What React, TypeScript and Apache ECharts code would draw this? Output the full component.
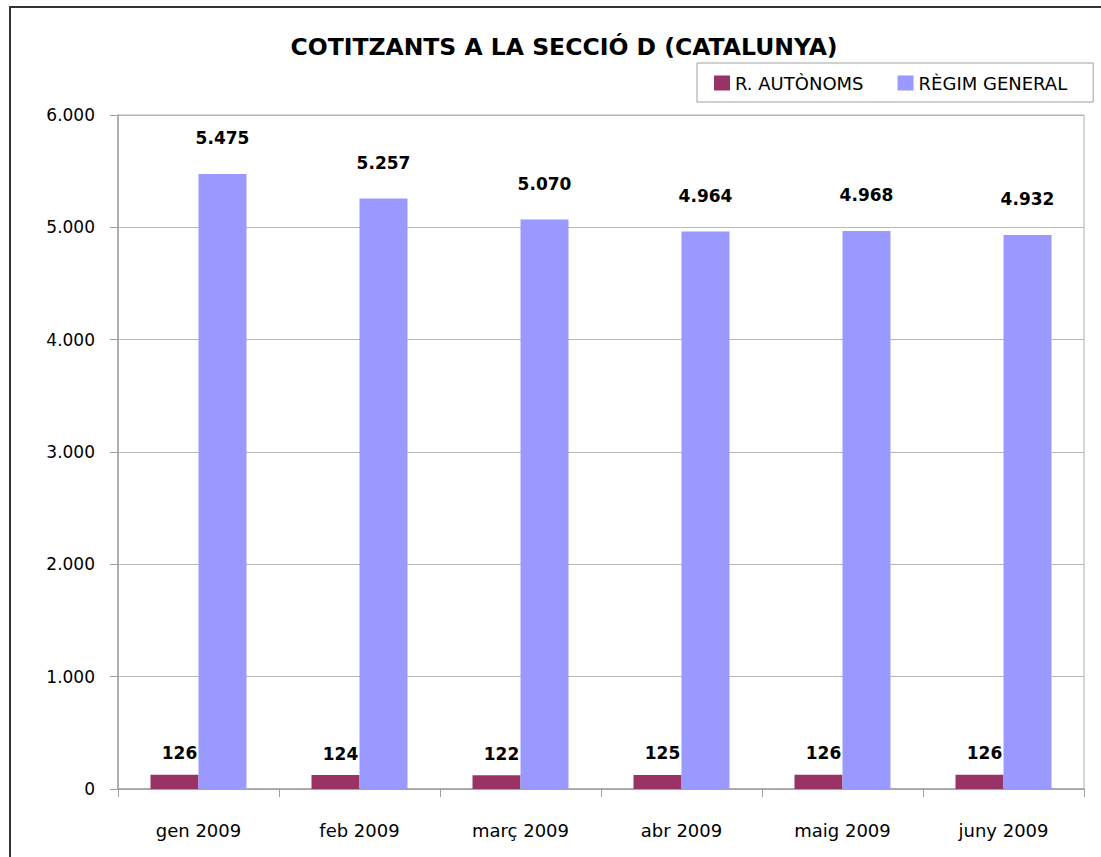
import React, { useEffect, useRef } from "react";
import * as echarts from "echarts";

const categories = ["gen 2009", "feb 2009", "març 2009", "abr 2009", "maig 2009", "juny 2009"];
const autonoms = [126, 124, 122, 125, 126, 126];
const regimGeneral = [5475, 5257, 5070, 4964, 4968, 4932];
const seriesNames = ["R. AUTÒNOMS", "RÈGIM GENERAL"];
const titleText = "COTITZANTS A LA SECCIÓ D (CATALUNYA)";

const FONT = "'DejaVu Sans', 'Noto Sans', sans-serif";

function fmt(v: number): string {
  return String(Math.round(v)).replace(/\B(?=(\d{3})+(?!\d))/g, ".");
}

export default function App() {
  const ref = useRef<HTMLDivElement>(null);
  useEffect(() => {
    if (!ref.current) return;
    const chart = echarts.init(ref.current, null, { renderer: "svg" });
    chart.setOption({
      animation: false,
      backgroundColor: "#ffffff",
      textStyle: { fontFamily: FONT },
      title: {
        text: titleText,
        left: 559,
        textAlign: "center",
        top: 30,
        textStyle: { fontFamily: FONT, fontSize: 23.5, fontWeight: "bold", color: "#000" },
      },
      legend: {
        data: seriesNames,
        left: 697,
        top: 63,
        padding: [11, 26, 10, 17],
        itemGap: 34,
        itemWidth: 16,
        itemHeight: 15,
        borderColor: "#a0a0a0",
        borderWidth: 1,
        icon: "rect",
        textStyle: { fontFamily: FONT, fontSize: 18, color: "#000" },
      },
      graphic: [
        {
          type: "rect",
          shape: { x: 10, y: 7, width: 1300, height: 1000 },
          style: { fill: "none", stroke: "#333333", lineWidth: 2 },
          z: 100,
          silent: true,
        },
      ],
      grid: {
        left: 118,
        right: 17,
        top: 115,
        bottom: 68,
        show: true,
        borderColor: "#b0b0b0",
        borderWidth: 1,
        containLabel: false,
      },
      xAxis: {
        type: "category",
        data: categories,
        axisLine: { lineStyle: { color: "#a0a0a0", width: 1.5 } },
        axisTick: { show: true, length: 8, alignWithLabel: false, lineStyle: { color: "#a0a0a0" } },
        axisLabel: { fontFamily: FONT, fontSize: 18, color: "#000", margin: 32 },
      },
      yAxis: {
        type: "value",
        min: 0,
        max: 6000,
        interval: 1000,
        axisLine: { show: true, lineStyle: { color: "#a0a0a0", width: 1.5 } },
        axisTick: { show: true, length: 8, lineStyle: { color: "#a0a0a0" } },
        splitLine: { lineStyle: { color: "#b8b8b8", width: 1 } },
        axisLabel: {
          fontFamily: FONT,
          fontSize: 17,
          color: "#000",
          margin: 23,
          formatter: (v: number) => fmt(v),
        },
      },
      series: [
        {
          name: seriesNames[0],
          type: "bar",
          data: autonoms,
          barWidth: 48,
          barGap: "0%",
          itemStyle: { color: "#993366" },
          label: {
            show: true,
            position: "top",
            distance: 13,
            offset: [5, 0],
            fontFamily: FONT,
            fontSize: 17,
            fontWeight: "bold",
            color: "#000",
            formatter: (p: any) => fmt(p.value),
          },
        },
        {
          name: seriesNames[1],
          type: "bar",
          data: regimGeneral,
          barWidth: 48,
          barGap: "0%",
          itemStyle: { color: "#9999ff" },
          label: {
            show: true,
            position: "top",
            distance: 27,
            fontFamily: FONT,
            fontSize: 17,
            fontWeight: "bold",
            color: "#000",
            formatter: (p: any) => fmt(p.value),
          },
        },
      ],
    });
    return () => chart.dispose();
  }, []);
  return (
    <div
      ref={ref}
      style={{ position: "fixed", left: 0, top: 0, width: 1101, height: 857, background: "#fff" }}
    />
  );
}
